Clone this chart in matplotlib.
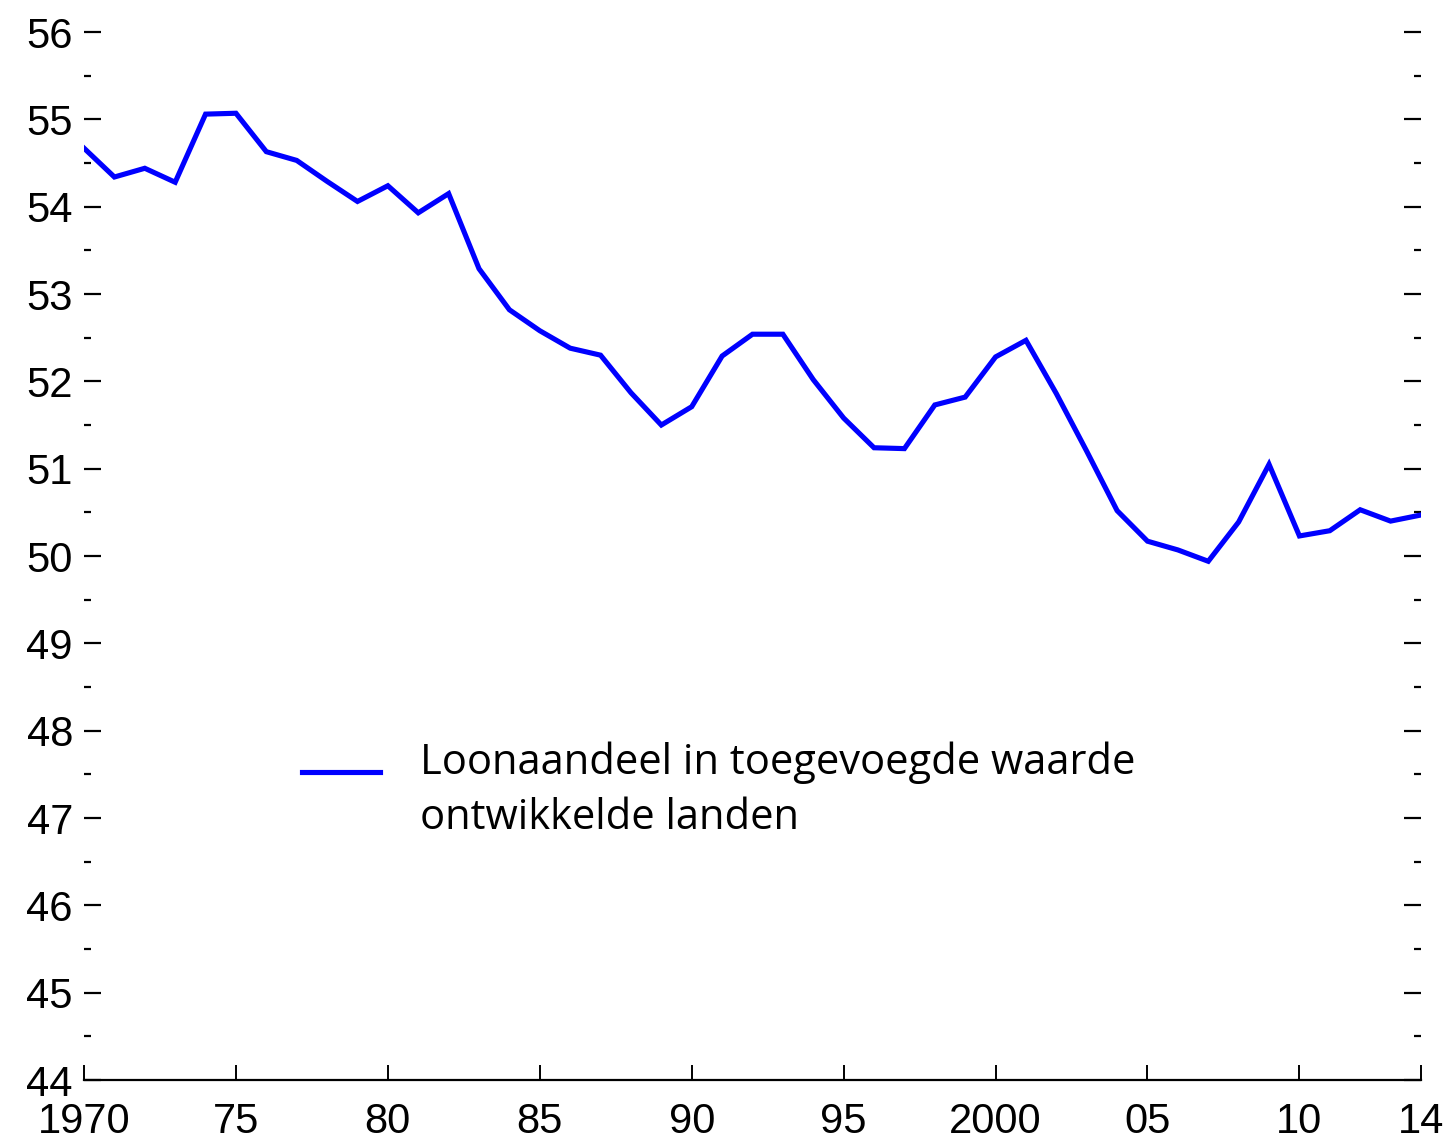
import matplotlib
matplotlib.use("Agg")
import matplotlib.pyplot as plt
from matplotlib.ticker import MultipleLocator

# Loonaandeel in toegevoegde waarde, ontwikkelde landen (%)
years = list(range(1970, 2015))
share = [54.67, 54.34, 54.44, 54.28, 55.06, 55.07, 54.63, 54.53, 54.29, 54.06,
         54.24, 53.93, 54.15, 53.29, 52.82, 52.58, 52.38, 52.30, 51.87, 51.50,
         51.71, 52.29, 52.54, 52.54, 52.02, 51.58, 51.24, 51.23, 51.73, 51.82,
         52.28, 52.47, 51.86, 51.20, 50.52, 50.17, 50.07, 49.94, 50.39, 51.05,
         50.23, 50.29, 50.53, 50.40, 50.47]

xticks = [1970, 1975, 1980, 1985, 1990, 1995, 2000, 2005, 2010, 2014]
xlabels = ["1970", "75", "80", "85", "90", "95", "2000", "05", "10", "14"]
yticks = list(range(44, 57))

label = "Loonaandeel in toegevoegde waarde\nontwikkelde landen"


def main() -> None:
	fig = plt.figure(figsize=(14.51, 11.44), dpi=100)
	ax = fig.add_axes([0.0579, 0.0559, 0.9214, 0.9161])

	ax.plot(years, share, color="#0000ff", lw=3.7, label=label, solid_joinstyle="miter")

	ax.set_xlim(1970, 2014)
	ax.set_ylim(44, 56)

	for s in ["left", "right", "top"]:
		ax.spines[s].set_visible(False)
	ax.spines["bottom"].set_linewidth(1.6)

	ax.set_xticks(xticks)
	ax.set_xticklabels(xlabels)
	ax.set_yticks(yticks)
	ax.yaxis.set_minor_locator(MultipleLocator(0.5))

	ax.tick_params(axis="x", direction="in", length=11, width=1.4, pad=16, labelsize=30)
	ax.tick_params(axis="y", which="major", direction="in", length=12, width=1.6,
				   left=True, right=True, pad=8, labelsize=30)
	ax.tick_params(axis="y", which="minor", direction="in", length=5, width=1.6,
				   left=True, right=True)
	for t in ax.get_xticklabels() + ax.get_yticklabels():
		t.set_family("Liberation Sans")

	leg = ax.legend(loc="upper left", bbox_to_anchor=(0.135, 0.359), frameon=False,
					prop={"family": "Open Sans", "size": 30}, handlelength=1.86,
					handletextpad=0.96, labelspacing=0.3)
	for t in leg.get_texts():
		t.set_linespacing(1.42)
	# legend key sits level with the first text line, not the middle of the block
	h = leg.get_lines()[0]
	h.set_ydata([y + 14 for y in h.get_ydata()])

	fig.savefig("out.png", dpi=100)


if __name__ == "__main__":
	main()
